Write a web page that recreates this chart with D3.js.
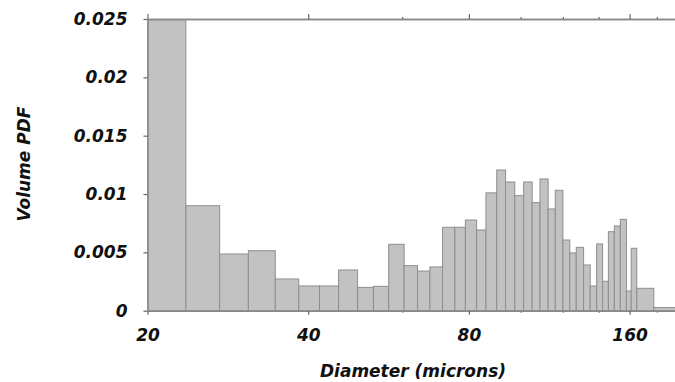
<!DOCTYPE html>
<html>
<head>
<meta charset="utf-8">
<script src="https://cdn.jsdelivr.net/npm/d3@7"></script>
<style>
  html, body { margin: 0; padding: 0; background: #fff; }
  svg { display: block; }
  text { font-family: "DejaVu Sans", Verdana, sans-serif; font-weight: bold; font-style: italic; fill: #111; }
</style>
</head>
<body>
<script>
// Bin edges (microns) and volume PDF per bin
const binEdges = [20, 23.6, 27.3, 30.9, 34.7, 38.4, 42.0, 45.6, 49.5, 53.0, 56.6, 60.5, 64.1, 67.6,
  71.4, 75.3, 78.8, 82.7, 86.1, 90.2, 93.7, 97.5, 101.3, 105.1, 108.7, 112.6, 116.1, 120.0, 123.6,
  127.1, 131.2, 135.0, 138.8, 142.4, 146.0, 149.8, 153.7, 157.8, 161.1, 165.0, 177.6, 200];
const pdfValues = [0.025, 0.0090, 0.00486, 0.00514, 0.00272, 0.00212, 0.00212, 0.00349, 0.0020,
  0.00209, 0.00569, 0.00386, 0.0034, 0.00375, 0.00715, 0.00715, 0.00777, 0.00692, 0.0101, 0.01206,
  0.01103, 0.00986, 0.01103, 0.00926, 0.01129, 0.00872, 0.01032, 0.00606, 0.00495, 0.00543,
  0.00392, 0.00212, 0.00572, 0.00252, 0.00677, 0.00726, 0.00783, 0.00169, 0.00535, 0.00192, 0.00027];
const xMajorTicks = [20, 40, 80, 160];
const xMinorTicks = [60, 100, 120, 140, 180];
const yTicks = [0, 0.005, 0.01, 0.015, 0.02, 0.025];
const yTickLabels = ["0", "0.005", "0.01", "0.015", "0.02", "0.025"];
const xTitle = "Diameter (microns)";
const yTitle = "Volume PDF";

(function () {
const W = 675, H = 382;
const mLeft = 147.5, mRight = 675, mTop = 19, mBottom = 310.7;

const svg = d3.select("body").append("svg").attr("width", W).attr("height", H);

const x = d3.scaleLog().domain([20, 194.6]).range([mLeft, mRight]);
const y = d3.scaleLinear().domain([0, 0.025]).range([mBottom, mTop]);

svg.append("defs").append("clipPath").attr("id", "clip")
  .append("rect").attr("x", mLeft).attr("y", mTop).attr("width", mRight - mLeft).attr("height", mBottom - mTop);

const bins = pdfValues.map((v, i) => ({ x0: binEdges[i], x1: binEdges[i + 1], v }));

svg.append("g").attr("clip-path", "url(#clip)")
  .selectAll("rect").data(bins).join("rect")
  .attr("x", d => x(d.x0))
  .attr("width", d => x(d.x1) - x(d.x0))
  .attr("y", d => y(d.v))
  .attr("height", d => y(0) - y(d.v))
  .attr("fill", "#c2c2c2")
  .attr("stroke", "#8e8e8e")
  .attr("stroke-width", 1);

function styleAxis(g) {
  g.selectAll(".domain").attr("stroke", "#888").attr("stroke-width", 1.6);
  g.selectAll(".tick line").attr("stroke", "#666").attr("stroke-width", 1.2);
  g.selectAll("text").attr("font-size", 17).attr("fill", "#111")
    .attr("font-family", '"DejaVu Sans", Verdana, sans-serif')
    .attr("font-weight", "bold").attr("font-style", "italic");
}

// Bottom axis
svg.append("g").attr("transform", `translate(0,${mBottom})`)
  .call(d3.axisBottom(x).tickValues(xMinorTicks).tickSize(2).tickSizeOuter(0).tickFormat(""))
  .call(styleAxis);
svg.append("g").attr("transform", `translate(0,${mBottom})`)
  .call(d3.axisBottom(x).tickValues(xMajorTicks).tickSize(4).tickSizeOuter(0).tickPadding(14).tickFormat(d3.format("d")))
  .call(styleAxis);

// Top axis
svg.append("g").attr("transform", `translate(0,${mTop})`)
  .call(d3.axisTop(x).tickValues(xMinorTicks).tickSize(2).tickSizeOuter(0).tickFormat(""))
  .call(styleAxis);
svg.append("g").attr("transform", `translate(0,${mTop})`)
  .call(d3.axisTop(x).tickValues(xMajorTicks).tickSize(5).tickSizeOuter(0).tickFormat(""))
  .call(styleAxis);

// Left axis
svg.append("g").attr("transform", `translate(${mLeft},0)`)
  .call(d3.axisLeft(y).tickValues(yTicks).tickSize(4).tickSizeOuter(0).tickPadding(16)
    .tickFormat((d, i) => yTickLabels[i]))
  .call(styleAxis);

// Titles
svg.append("text")
  .attr("x", 413).attr("y", 377)
  .attr("text-anchor", "middle").attr("font-size", 17)
  .text(xTitle);

svg.append("text")
  .attr("transform", `translate(30,164) rotate(-90)`)
  .attr("text-anchor", "middle").attr("font-size", 17)
  .text(yTitle);
})();
</script>
</body>
</html>
